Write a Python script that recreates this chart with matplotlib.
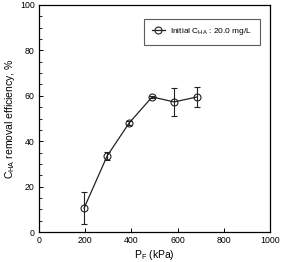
import matplotlib
matplotlib.use("Agg")
import matplotlib.pyplot as plt
from matplotlib.ticker import MultipleLocator
from matplotlib.lines import Line2D

plt.rcParams['font.family'] = ['Liberation Sans', 'DejaVu Sans']
plt.rcParams['mathtext.fontset'] = 'custom'
plt.rcParams['mathtext.rm'] = 'Liberation Sans'
plt.rcParams['mathtext.it'] = 'Liberation Sans'

pressure = [195, 295, 390, 490, 585, 685]
efficiency = [10.5, 33.5, 48.0, 59.5, 57.3, 59.5]
error = [7.0, 1.6, 1.0, 0.5, 6.0, 4.4]

fig = plt.figure(figsize=(2.83, 2.62), dpi=100)
ax = fig.add_axes([39/283, 1-232/262, 231/283, 227/262])

c = '#222222'
ax.errorbar(pressure, efficiency, yerr=error, color=c, lw=0.9,
            marker='o', ms=5, mfc='none', mec=c, mew=0.8,
            capsize=2.5, elinewidth=0.8, capthick=0.8)

ax.set_xlim(0, 1000)
ax.set_ylim(0, 100)
ax.xaxis.set_major_locator(MultipleLocator(200))
ax.yaxis.set_major_locator(MultipleLocator(20))
ax.yaxis.set_minor_locator(MultipleLocator(5))
ax.tick_params(direction='in', labelsize=6.3, length=3, width=0.7, pad=3)
ax.tick_params(which='minor', direction='in', length=1.8, width=0.6)
for s in ax.spines.values():
    s.set_linewidth(0.9)

ax.set_xlabel('P$_{\\mathrm{F}}$ (kPa)', fontsize=7.5, labelpad=2)
ax.set_ylabel('C$_{\\mathrm{HA}}$ removal efficiency, %', fontsize=7.5, labelpad=2)

handle = Line2D([], [], color=c, lw=0.9, marker='o', ms=5, mfc='none', mec=c, mew=0.8)
leg = ax.legend([handle], ['Initial C$_{\\mathrm{HA}}$ : 20.0 mg/L'],
                loc='upper right', bbox_to_anchor=(0.955, 0.94), fontsize=6,
                frameon=True, fancybox=False, edgecolor='#333333',
                handlelength=1.6, handletextpad=0.6, borderpad=0.9,
                borderaxespad=0)
leg.get_frame().set_linewidth(0.8)

fig.savefig('out.png', dpi=100)
